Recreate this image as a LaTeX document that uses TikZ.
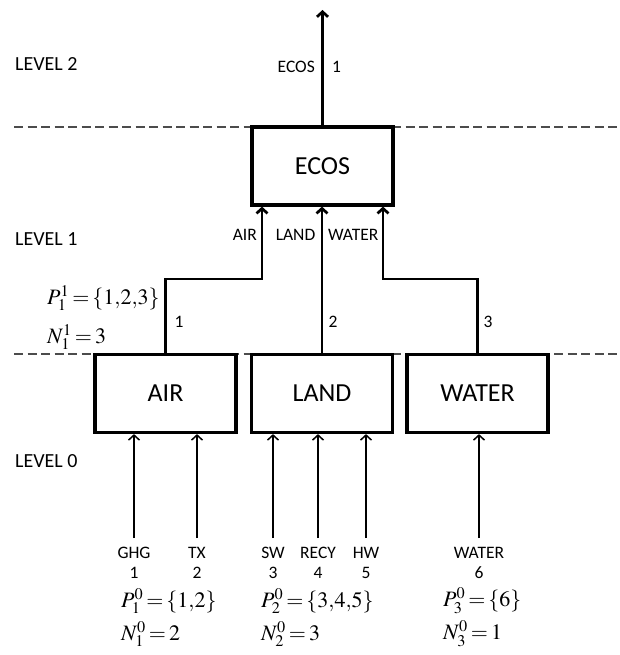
\documentclass[tikz,border=0pt]{standalone}
\usepackage{mathptmx}
\usepackage[no-math]{fontspec}
\setmainfont{Carlito}
\usetikzlibrary{arrows.meta}
\newcommand\tightmath{\thickmuskip=2.5mu\relax\medmuskip=1mu\relax\thinmuskip=0mu\relax}
\tikzset{>={Straight Barb[length=5pt,width=11pt]}}
\tikzset{
  levelbox/.style={draw,line width=3.2pt,minimum width=141pt,minimum height=78pt,
    inner sep=0pt,font=\fontsize{26}{30}\selectfont},
  levelline/.style={dash pattern=on 9pt off 4.5pt,line width=1.8pt,black!70},
  flow/.style={->,line width=2.7pt},
  input/.style={->,line width=1.5pt},
  lbl/.style={inner sep=0pt,font=\fontsize{17.5}{20}\selectfont},
  lvl/.style={anchor=west,inner sep=0pt,font=\fontsize{20}{24}\selectfont},
  setlbl/.style={anchor=west,inner sep=0pt,font=\fontsize{22}{24}\selectfont\tightmath}
}

\begin{document}
\begin{tikzpicture}[x=1pt,y=-1pt]
  \useasboundingbox (0,0) rectangle (620,655);
  % limits
  \def\yTwo{127}   % level 1/2 border
  \def\yOne{354}   % level 0/1 border
  \def\yBend{279}  % bends of level 1 flows
  \def\yLbl{235}   % labels under ECOS
  \def\yTail{547}  % top of level 0 input names

  % level borders
  \coordinate (l2a) at (14,\yTwo);  \coordinate (l2b) at (620,\yTwo);
  \coordinate (l1a) at (14,\yOne);  \coordinate (l1b) at (620,\yOne);
  \draw[levelline] (l2a) -- (l2b);
  \draw[levelline] (l1a) -- (l1b);

  % level names
  \node[lvl] (lev2) at (15,64)  {LEVEL 2};
  \node[lvl] (lev1) at (15,239) {LEVEL 1};
  \node[lvl] (lev0) at (15,461) {LEVEL 0};

  % boxes
  \node[levelbox] (ecos)  at (322.5,166)  {ECOS};
  \node[levelbox] (air)   at (165.5,393.5) {AIR};
  \node[levelbox] (land)  at (322,393.5)   {LAND};
  \node[levelbox] (water) at (477.5,393.5) {WATER};

  % level 2 output
  \coordinate (top) at (322.5,10);
  \draw[flow] (ecos.north) -- (top);
  \node[lbl,anchor=east] (outname) at (315,67) {ECOS};
  \node[lbl,anchor=west] (outnum)  at (332,67) {1};

  % level 1 flows
  \coordinate (airbend)   at (262,\yBend);
  \coordinate (waterbend) at (383,\yBend);
  \draw[flow] (air.north) |- (airbend) -- (airbend |- ecos.south);
  \draw[flow] (land.north) -- (land.north |- ecos.south);
  \draw[flow] (water.north) |- (waterbend) -- (waterbend |- ecos.south);
  \node[lbl,anchor=east] (airname)   at (257,\yLbl)   {AIR};
  \node[lbl,anchor=east] (landname)  at (315.5,\yLbl) {LAND};
  \node[lbl,anchor=east] (watername) at (378.5,\yLbl) {WATER};
  \node[lbl] (airnum)   at (179,322) {1};
  \node[lbl] (landnum)  at (333,322) {2};
  \node[lbl] (waternum) at (488,322) {3};
  \node[setlbl] (p11) at (47,298) {$P_1^1=\{1,2,3\}$};
  \node[setlbl] (n11) at (47,337) {$N_1^1=3$};

  % level 0 inputs
  \foreach \x/\name/\num/\target in {134/GHG/1/air,197/TX/2/air,273/SW/3/land,
      318/RECY/4/land,366/HW/5/land,479/WATER/6/water}{
    \node[lbl,align=center,anchor=north] (in\num) at (\x,\yTail) {\name\\\num};
    \draw[input] ([yshift=9pt]in\num.north) -- (in\num.north |- \target.south);
  }

  % sets of level 0
  \node[setlbl] (p01) at (121,601) {$P_1^0=\{1,2\}$};
  \node[setlbl] (n01) at (121,634) {$N_1^0=2$};
  \node[setlbl] (p02) at (261,601) {$P_2^0=\{3,4,5\}$};
  \node[setlbl] (n02) at (261,634) {$N_2^0=3$};
  \node[setlbl] (p03) at (443,601) {$P_3^0=\{6\}$};
  \node[setlbl] (n03) at (443,634) {$N_3^0=1$};
\end{tikzpicture}
\end{document}
